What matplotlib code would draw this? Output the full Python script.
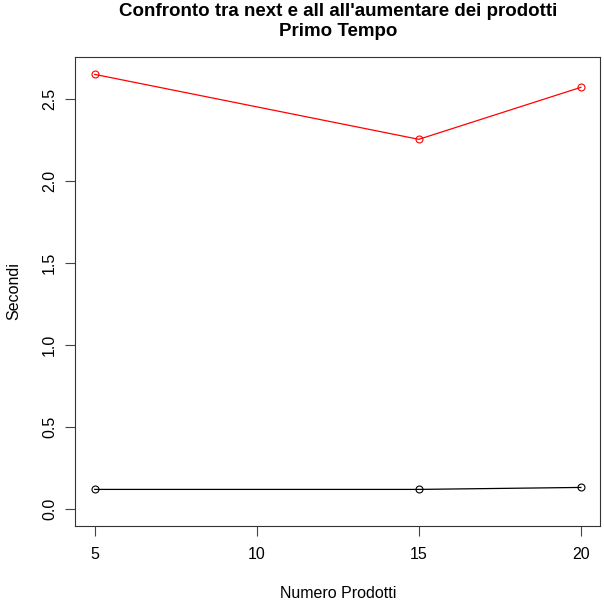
import numpy as np
import matplotlib
matplotlib.use('Agg')
import matplotlib.pyplot as plt

prodotti = [5, 15, 20]
tempo_all = [2.650, 2.254, 2.571]
tempo_next = [0.119, 0.119, 0.131]
x_ticks = [5, 10, 15, 20]
y_ticks = [0.0, 0.5, 1.0, 1.5, 2.0, 2.5]

plt.rcParams['font.family'] = ['Liberation Sans', 'DejaVu Sans']

fig = plt.figure(figsize=(6.04, 6.02), dpi=100)
ax = fig.add_axes([75.3/604, 1 - 526.3/602, (600.3-75.3)/604, (526.3-57)/602])

# R-style lines with open circles
ax.plot(prodotti, tempo_all, color='red', linewidth=0.9, marker='o', markersize=5,
        markerfacecolor='none', markeredgewidth=0.8)
ax.plot(prodotti, tempo_next, color='black', linewidth=0.9, marker='o', markersize=5,
        markerfacecolor='none', markeredgewidth=0.8)

# R default 4% extension
lo, hi = 0, max(tempo_all)
ax.set_ylim(lo - 0.04*(hi-lo), hi + 0.04*(hi-lo))
ax.set_xlim(5 - 0.04*15, 20 + 0.04*15)

ax.set_xticks(x_ticks)
ax.set_xticklabels([str(v) for v in x_ticks], fontsize=11.5)
ax.set_yticks(y_ticks)
ax.set_yticklabels(['%.1f' % v for v in y_ticks], fontsize=11.5, rotation=90, va='center')
ax.tick_params(direction='out', length=7, width=0.8, color='#444444', pad=8)
ax.tick_params(axis='y', pad=6)
for s in ax.spines.values():
    s.set_linewidth(0.8)
    s.set_color('#333333')

cx = 338/604
fig.text(cx, 1 - 593/602, 'Numero Prodotti', ha='center', va='center', fontsize=11.5)
fig.text(14/604, 1 - 291/602, 'Secondi', ha='center', va='center', rotation=90, fontsize=11.5)
fig.text(cx, 1 - 12/602, "Confronto tra next e all all'aumentare dei prodotti",
         ha='center', va='center', fontsize=13.5, fontweight='bold')
fig.text(cx, 1 - 32/602, 'Primo Tempo',
         ha='center', va='center', fontsize=13.5, fontweight='bold')

fig.savefig('out.png', dpi=100)
